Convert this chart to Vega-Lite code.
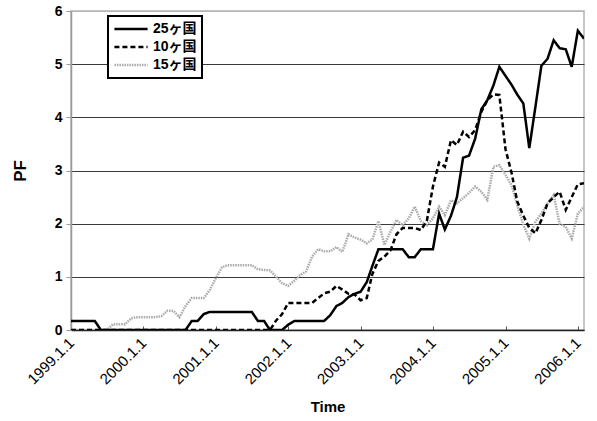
{
  "$schema": "https://vega.github.io/schema/vega-lite/v6.json",
  "width": 513,
  "height": 319,
  "autosize": "none",
  "padding": {"left": 71, "top": 11, "right": 13, "bottom": 91},
  "background": "white",
  "config": {"view": {"stroke": "#b4b4b4", "strokeWidth": 1.5}, "font": "Liberation Sans"},
  "data": {"values": [
    {"t": "1999/01/01", "25ヶ国": 0.17, "10ヶ国": 0, "15ヶ国": 0},
    {"t": "1999/02/01", "25ヶ国": 0.17, "10ヶ国": 0, "15ヶ国": 0},
    {"t": "1999/03/01", "25ヶ国": 0.17, "10ヶ国": 0, "15ヶ国": 0},
    {"t": "1999/04/01", "25ヶ国": 0.17, "10ヶ国": 0, "15ヶ国": 0},
    {"t": "1999/05/01", "25ヶ国": 0.17, "10ヶ国": 0, "15ヶ国": 0},
    {"t": "1999/06/01", "25ヶ国": 0, "10ヶ国": 0, "15ヶ国": 0},
    {"t": "1999/07/01", "25ヶ国": 0, "10ヶ国": 0, "15ヶ国": 0},
    {"t": "1999/08/01", "25ヶ国": 0, "10ヶ国": 0, "15ヶ国": 0.11},
    {"t": "1999/09/01", "25ヶ国": 0, "10ヶ国": 0, "15ヶ国": 0.11},
    {"t": "1999/10/01", "25ヶ国": 0, "10ヶ国": 0, "15ヶ国": 0.11},
    {"t": "1999/11/01", "25ヶ国": 0, "10ヶ国": 0, "15ヶ国": 0.22},
    {"t": "1999/12/01", "25ヶ国": 0, "10ヶ国": 0, "15ヶ国": 0.24},
    {"t": "2000/01/01", "25ヶ国": 0, "10ヶ国": 0, "15ヶ国": 0.24},
    {"t": "2000/02/01", "25ヶ国": 0, "10ヶ国": 0, "15ヶ国": 0.24},
    {"t": "2000/03/01", "25ヶ国": 0, "10ヶ国": 0, "15ヶ国": 0.24},
    {"t": "2000/04/01", "25ヶ国": 0, "10ヶ国": 0, "15ヶ国": 0.26},
    {"t": "2000/05/01", "25ヶ国": 0, "10ヶ国": 0, "15ヶ国": 0.36},
    {"t": "2000/06/01", "25ヶ国": 0, "10ヶ国": 0, "15ヶ国": 0.36},
    {"t": "2000/07/01", "25ヶ国": 0, "10ヶ国": 0, "15ヶ国": 0.24},
    {"t": "2000/08/01", "25ヶ国": 0, "10ヶ国": 0, "15ヶ国": 0.45},
    {"t": "2000/09/01", "25ヶ国": 0.17, "10ヶ国": 0, "15ヶ国": 0.6},
    {"t": "2000/10/01", "25ヶ国": 0.17, "10ヶ国": 0, "15ヶ国": 0.6},
    {"t": "2000/11/01", "25ヶ国": 0.3, "10ヶ国": 0, "15ヶ国": 0.6},
    {"t": "2000/12/01", "25ヶ国": 0.34, "10ヶ国": 0, "15ヶ国": 0.75},
    {"t": "2001/01/01", "25ヶ国": 0.34, "10ヶ国": 0, "15ヶ国": 0.98},
    {"t": "2001/02/01", "25ヶ国": 0.34, "10ヶ国": 0, "15ヶ国": 1.18},
    {"t": "2001/03/01", "25ヶ国": 0.34, "10ヶ国": 0, "15ヶ国": 1.22},
    {"t": "2001/04/01", "25ヶ国": 0.34, "10ヶ国": 0, "15ヶ国": 1.22},
    {"t": "2001/05/01", "25ヶ国": 0.34, "10ヶ国": 0, "15ヶ国": 1.22},
    {"t": "2001/06/01", "25ヶ国": 0.34, "10ヶ国": 0, "15ヶ国": 1.22},
    {"t": "2001/07/01", "25ヶ国": 0.34, "10ヶ国": 0, "15ヶ国": 1.22},
    {"t": "2001/08/01", "25ヶ国": 0.17, "10ヶ国": 0, "15ヶ国": 1.14},
    {"t": "2001/09/01", "25ヶ国": 0.17, "10ヶ国": 0, "15ヶ国": 1.13},
    {"t": "2001/10/01", "25ヶ国": 0, "10ヶ国": 0, "15ヶ国": 1.12},
    {"t": "2001/11/01", "25ヶ国": 0, "10ヶ国": 0.18, "15ヶ国": 1.0},
    {"t": "2001/12/01", "25ヶ国": 0, "10ヶ国": 0.3, "15ヶ国": 0.88},
    {"t": "2002/01/01", "25ヶ国": 0.1, "10ヶ国": 0.51, "15ヶ国": 0.83},
    {"t": "2002/02/01", "25ヶ国": 0.17, "10ヶ国": 0.51, "15ヶ国": 0.93},
    {"t": "2002/03/01", "25ヶ国": 0.17, "10ヶ国": 0.51, "15ヶ国": 1.03},
    {"t": "2002/04/01", "25ヶ国": 0.17, "10ヶ国": 0.51, "15ヶ国": 1.1},
    {"t": "2002/05/01", "25ヶ国": 0.17, "10ヶ国": 0.51, "15ヶ国": 1.38},
    {"t": "2002/06/01", "25ヶ国": 0.17, "10ヶ国": 0.6, "15ヶ国": 1.52},
    {"t": "2002/07/01", "25ヶ国": 0.17, "10ヶ国": 0.69, "15ヶ国": 1.48},
    {"t": "2002/08/01", "25ヶ国": 0.28, "10ヶ国": 0.72, "15ヶ国": 1.48},
    {"t": "2002/09/01", "25ヶ国": 0.45, "10ヶ国": 0.83, "15ヶ国": 1.56},
    {"t": "2002/10/01", "25ヶ国": 0.51, "10ヶ国": 0.76, "15ヶ国": 1.47},
    {"t": "2002/11/01", "25ヶ国": 0.62, "10ヶ国": 0.68, "15ヶ国": 1.8},
    {"t": "2002/12/01", "25ヶ国": 0.68, "10ヶ国": 0.67, "15ヶ国": 1.74},
    {"t": "2003/01/01", "25ヶ国": 0.72, "10ヶ国": 0.56, "15ヶ国": 1.7},
    {"t": "2003/02/01", "25ヶ国": 0.9, "10ヶ国": 0.6, "15ヶ国": 1.63},
    {"t": "2003/03/01", "25ヶ国": 1.2, "10ヶ国": 1.05, "15ヶ国": 1.7},
    {"t": "2003/04/01", "25ヶ国": 1.52, "10ヶ国": 1.3, "15ヶ国": 2.05},
    {"t": "2003/05/01", "25ヶ国": 1.52, "10ヶ国": 1.38, "15ヶ国": 1.6},
    {"t": "2003/06/01", "25ヶ国": 1.52, "10ヶ国": 1.5, "15ヶ国": 1.85},
    {"t": "2003/07/01", "25ヶ国": 1.52, "10ヶ国": 1.8, "15ヶ国": 2.07},
    {"t": "2003/08/01", "25ヶ国": 1.52, "10ヶ国": 1.92, "15ヶ国": 1.97},
    {"t": "2003/09/01", "25ヶ国": 1.37, "10ヶ国": 1.92, "15ヶ国": 2.1},
    {"t": "2003/10/01", "25ヶ国": 1.37, "10ヶ国": 1.92, "15ヶ国": 2.32},
    {"t": "2003/11/01", "25ヶ国": 1.52, "10ヶ国": 1.88, "15ヶ国": 2.05},
    {"t": "2003/12/01", "25ヶ国": 1.52, "10ヶ国": 2.05, "15ヶ国": 1.97},
    {"t": "2004/01/01", "25ヶ国": 1.52, "10ヶ国": 2.7, "15ヶ国": 2.1},
    {"t": "2004/02/01", "25ヶ国": 2.19, "10ヶ国": 3.15, "15ヶ国": 2.32},
    {"t": "2004/03/01", "25ヶ国": 1.89, "10ヶ国": 3.07, "15ヶ国": 2.16},
    {"t": "2004/04/01", "25ヶ国": 2.15, "10ヶ国": 3.57, "15ヶ国": 2.44},
    {"t": "2004/05/01", "25ヶ国": 2.5, "10ヶ国": 3.48, "15ヶ国": 2.38},
    {"t": "2004/06/01", "25ヶ国": 3.24, "10ヶ国": 3.73, "15ヶ国": 2.48},
    {"t": "2004/07/01", "25ヶ国": 3.28, "10ヶ国": 3.63, "15ヶ国": 2.58},
    {"t": "2004/08/01", "25ヶ国": 3.6, "10ヶ国": 3.76, "15ヶ国": 2.7},
    {"t": "2004/09/01", "25ヶ国": 4.15, "10ヶ国": 4.1, "15ヶ国": 2.6},
    {"t": "2004/10/01", "25ヶ国": 4.32, "10ヶ国": 4.32, "15ヶ国": 2.45},
    {"t": "2004/11/01", "25ヶ国": 4.6, "10ヶ国": 4.43, "15ヶ国": 3.07},
    {"t": "2004/12/01", "25ヶ国": 4.95, "10ヶ国": 4.42, "15ヶ国": 3.1},
    {"t": "2005/01/01", "25ヶ国": 4.78, "10ヶ国": 3.4, "15ヶ国": 2.92},
    {"t": "2005/02/01", "25ヶ国": 4.61, "10ヶ国": 2.95, "15ヶ国": 2.72},
    {"t": "2005/03/01", "25ヶ国": 4.43, "10ヶ国": 2.42, "15ヶ国": 2.35},
    {"t": "2005/04/01", "25ヶ国": 4.26, "10ヶ国": 2.15, "15ヶ国": 1.98},
    {"t": "2005/05/01", "25ヶ国": 3.42, "10ヶ国": 1.92, "15ヶ国": 1.72},
    {"t": "2005/06/01", "25ヶ国": 4.2, "10ヶ国": 1.82, "15ヶ国": 2.04},
    {"t": "2005/07/01", "25ヶ国": 4.97, "10ヶ国": 2.07, "15ヶ国": 2.19},
    {"t": "2005/08/01", "25ヶ国": 5.1, "10ヶ国": 2.38, "15ヶ国": 2.38},
    {"t": "2005/09/01", "25ヶ国": 5.45, "10ヶ国": 2.5, "15ヶ国": 2.54},
    {"t": "2005/10/01", "25ヶ国": 5.3, "10ヶ国": 2.6, "15ヶ国": 2.0},
    {"t": "2005/11/01", "25ヶ国": 5.28, "10ヶ国": 2.26, "15ヶ国": 1.94},
    {"t": "2005/12/01", "25ヶ国": 4.95, "10ヶ国": 2.5, "15ヶ国": 1.72},
    {"t": "2006/01/01", "25ヶ国": 5.63, "10ヶ国": 2.74, "15ヶ国": 2.19},
    {"t": "2006/02/01", "25ヶ国": 5.48, "10ヶ国": 2.76, "15ヶ国": 2.32}
  ]},
  "transform": [{"fold": ["15ヶ国", "10ヶ国", "25ヶ国"], "as": ["series", "pf"]}],
  "mark": {"type": "line", "strokeWidth": 2.5, "clip": true},
  "encoding": {
    "x": {
      "field": "t", "type": "temporal",
      "scale": {"domain": [{"year": 1999, "month": 1, "date": 1}, {"year": 2006, "month": 2, "date": 1}]},
      "axis": {
        "title": "Time", "titleFont": "Liberation Sans", "titleFontSize": 15, "titleFontWeight": "bold", "titleColor": "black", "titlePadding": 13,
        "format": "%Y.%-m.%-d", "tickCount": {"interval": "year", "step": 1},
        "labelAngle": -45, "labelAlign": "right", "labelBaseline": "middle",
        "labelFont": "Liberation Sans", "labelFontSize": 15, "labelColor": "black", "labelPadding": 14,
        "grid": false, "domainColor": "#222222", "domainWidth": 1.5,
        "tickColor": "#555555", "tickSize": -4, "tickWidth": 1
      }
    },
    "y": {
      "field": "pf", "type": "quantitative",
      "scale": {"domain": [0, 6], "nice": false},
      "axis": {
        "title": "PF", "titleFont": "Liberation Sans", "titleFontSize": 17, "titleFontWeight": "bold", "titleColor": "black", "titlePadding": 25,
        "values": [0, 1, 2, 3, 4, 5, 6],
        "labelFont": "Liberation Sans", "labelFontSize": 14, "labelFontWeight": "bold", "labelColor": "black", "labelPadding": 4,
        "domainColor": "#9a9a9a", "domainWidth": 1.5, "tickColor": "#9a9a9a", "tickSize": 5,
        "grid": true, "gridColor": {"condition": {"test": "datum.value == 6", "value": "#b4b4b4"}, "value": "#3a3a3a"}, "gridWidth": 1
      }
    },
    "color": {
      "field": "series", "type": "nominal",
      "scale": {"domain": ["25ヶ国", "10ヶ国", "15ヶ国"], "range": ["#000000", "#000000", "#aaaaaa"]},
      "legend": {
        "title": null, "orient": "none", "legendX": 37, "legendY": 5, "direction": "vertical",
        "symbolType": "stroke", "symbolSize": 1100, "symbolStrokeWidth": 2.5,
        "labelFont": "Liberation Sans, Noto Sans CJK JP", "labelFontSize": 14, "labelFontWeight": "bold", "labelColor": "black", "labelOffset": 4,
        "strokeColor": "black", "fillColor": "white", "padding": 5, "rowPadding": 2, "clipHeight": 16,
        "encode": {"legend": {"update": {"strokeWidth": {"value": 2}}}}
      }
    },
    "strokeDash": {
      "field": "series", "type": "nominal",
      "scale": {"domain": ["25ヶ国", "10ヶ国", "15ヶ国"], "range": [[1, 0], [5, 3], [1.5, 1]]},
      "legend": {
        "title": null, "orient": "none", "legendX": 37, "legendY": 5, "direction": "vertical",
        "symbolType": "stroke", "symbolSize": 1100, "symbolStrokeWidth": 2.5,
        "labelFont": "Liberation Sans, Noto Sans CJK JP", "labelFontSize": 14, "labelFontWeight": "bold", "labelColor": "black", "labelOffset": 4,
        "strokeColor": "black", "fillColor": "white", "padding": 5, "rowPadding": 2, "clipHeight": 16,
        "encode": {"legend": {"update": {"strokeWidth": {"value": 2}}}}
      }
    }
  }
}
